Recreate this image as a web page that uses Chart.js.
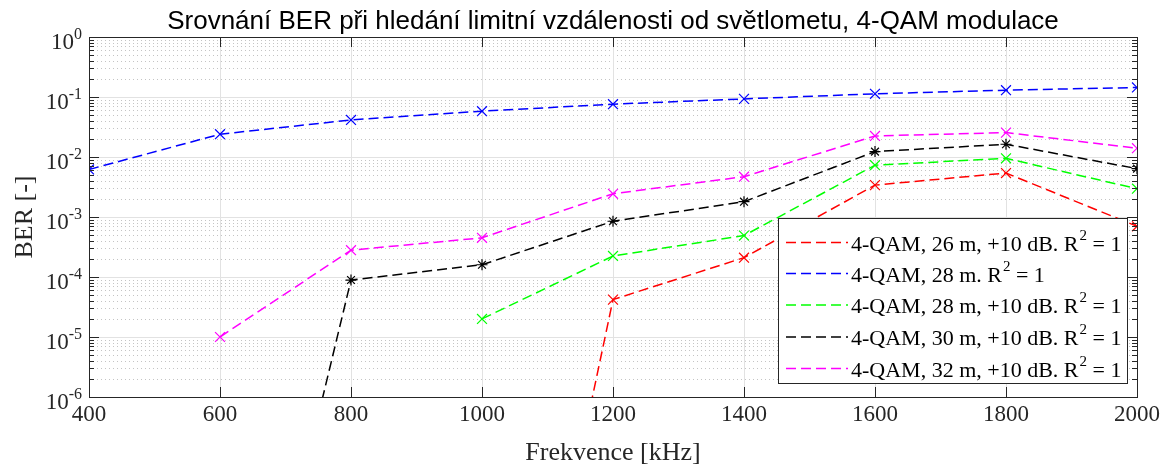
<!DOCTYPE html>
<html>
<head>
<meta charset="utf-8">
<script src="https://cdn.jsdelivr.net/npm/chart.js@4/dist/chart.umd.min.js"></script>
<style>
  html, body { margin: 0; padding: 0; background: #fff; }
  #wrap { width: 1166px; height: 468px; }
</style>
</head>
<body>
<div id="wrap"><canvas id="myGraph" width="1166" height="468"></canvas></div>
<script>
// data
const freq = [400, 600, 800, 1000, 1200, 1400, 1600, 1800, 2000];
const ber26p10 = [null, null, null, 2e-15, 4.2e-5, 2.1e-4, 3.4e-3, 5.4e-3, 7.0e-4];
const ber28 = [6.2e-3, 0.024, 0.0415, 0.058, 0.076, 0.093, 0.113, 0.130, 0.144];
const ber28p10 = [null, null, null, 2.0e-5, 2.24e-4, 4.9e-4, 7.3e-3, 9.5e-3, 2.96e-3];
const ber30p10 = [null, 8e-14, 8.9e-5, 1.6e-4, 8.5e-4, 1.8e-3, 0.0123, 0.0163, 6.4e-3];
const ber32p10 = [null, 1.0e-5, 2.8e-4, 4.5e-4, 2.44e-3, 4.7e-3, 0.0224, 0.0255, 0.0140];

const seriesLabels = [
  ['4-QAM, 26 m, +10 dB. R', '2', ' = 1'],
  ['4-QAM, 28 m. R', '2', ' = 1'],
  ['4-QAM, 28 m, +10 dB. R', '2', ' = 1'],
  ['4-QAM, 30 m, +10 dB. R', '2', ' = 1'],
  ['4-QAM, 32 m, +10 dB. R', '2', ' = 1']
];
const seriesColors = ['#ff0000', '#0000ff', '#00ff00', '#000000', '#ff00ff'];
const seriesMarkers = ['crossRot', 'crossRot', 'crossRot', 'star', 'crossRot'];
const markerSizes = [7, 7, 7, 5.5, 7];
const seriesData = [ber26p10, ber28, ber28p10, ber30p10, ber32p10];

const xTicks = [400, 600, 800, 1000, 1200, 1400, 1600, 1800, 2000];
const yExp = [0, -1, -2, -3, -4, -5, -6];

const titleText = 'Srovnání BER při hledání limitní vzdálenosti od světlometu, 4-QAM modulace';
const xTitle = 'Frekvence [kHz]';
const yTitle = 'BER [-]';

const DASH = [10, 5];
const SERIF = '"Liberation Serif", "Times New Roman", serif';
const SANS = '"Liberation Sans", Arial, sans-serif';

const graph = document.getElementById('myGraph');

// grid drawn under the lines, axes + texts on top
const gridPlugin = {
  id: 'matlabGrid',
  beforeDatasetsDraw(chart) {
    const ctx = chart.ctx;
    const a = chart.chartArea;
    const xs = chart.scales.x, ys = chart.scales.y;
    ctx.save();
    // minor horizontal, dotted
    ctx.strokeStyle = '#c4c4c4';
    ctx.lineWidth = 1;
    ctx.setLineDash([1, 3]);
    for (let e = -6; e < 0; e++) {
      for (let m = 2; m <= 9; m++) {
        const y = Math.round(ys.getPixelForValue(m * Math.pow(10, e))) + 0.5;
        ctx.beginPath(); ctx.moveTo(a.left, y); ctx.lineTo(a.right, y); ctx.stroke();
      }
    }
    ctx.setLineDash([]);
    ctx.strokeStyle = '#e2e2e2';
    yExp.forEach(e => {
      const y = Math.round(ys.getPixelForValue(Math.pow(10, e))) + 0.5;
      ctx.beginPath(); ctx.moveTo(a.left, y); ctx.lineTo(a.right, y); ctx.stroke();
    });
    xTicks.forEach(v => {
      const x = Math.round(xs.getPixelForValue(v)) + 0.5;
      ctx.beginPath(); ctx.moveTo(x, a.top); ctx.lineTo(x, a.bottom); ctx.stroke();
    });
    ctx.restore();
  },
  afterDraw(chart) {
    const ctx = chart.ctx;
    const a = chart.chartArea;
    const xs = chart.scales.x, ys = chart.scales.y;
    ctx.save();
    ctx.strokeStyle = '#262626';
    ctx.lineWidth = 1;
    // ticks, inward
    for (let e = -6; e < 0; e++) {
      for (let m = 2; m <= 9; m++) {
        const y = Math.round(ys.getPixelForValue(m * Math.pow(10, e))) + 0.5;
        ctx.beginPath();
        ctx.moveTo(a.left, y); ctx.lineTo(a.left + 5, y);
        ctx.moveTo(a.right, y); ctx.lineTo(a.right - 5, y);
        ctx.stroke();
      }
    }
    yExp.forEach(e => {
      const y = Math.round(ys.getPixelForValue(Math.pow(10, e))) + 0.5;
      ctx.beginPath();
      ctx.moveTo(a.left, y); ctx.lineTo(a.left + 10, y);
      ctx.moveTo(a.right, y); ctx.lineTo(a.right - 10, y);
      ctx.stroke();
    });
    xTicks.forEach(v => {
      const x = Math.round(xs.getPixelForValue(v)) + 0.5;
      ctx.beginPath();
      ctx.moveTo(x, a.bottom); ctx.lineTo(x, a.bottom - 10);
      ctx.moveTo(x, a.top); ctx.lineTo(x, a.top + 10);
      ctx.stroke();
    });
    // box
    ctx.strokeRect(Math.round(a.left) + 0.5, Math.round(a.top) + 0.5,
      Math.round(a.right - a.left), Math.round(a.bottom - a.top));

    ctx.fillStyle = '#262626';
    // x tick labels
    ctx.font = '23px ' + SERIF;
    ctx.textAlign = 'center';
    ctx.textBaseline = 'alphabetic';
    xTicks.forEach(v => {
      ctx.fillText(String(v), xs.getPixelForValue(v), a.bottom + 24);
    });
    // y tick labels 10^n
    yExp.forEach(e => {
      const y = ys.getPixelForValue(Math.pow(10, e));
      ctx.font = '23px ' + SERIF;
      const wBase = ctx.measureText('10').width;
      ctx.font = '16px ' + SERIF;
      const sup = String(e);
      const wSup = ctx.measureText(sup).width;
      const right = a.left - 7;
      ctx.textAlign = 'left';
      ctx.font = '23px ' + SERIF;
      ctx.fillText('10', right - wSup - wBase, y + 12);
      ctx.font = '16px ' + SERIF;
      ctx.fillText(sup, right - wSup, y + 2);
    });
    // axis titles
    ctx.font = '26px ' + SERIF;
    ctx.textAlign = 'center';
    ctx.fillText(xTitle, (a.left + a.right) / 2, a.bottom + 63);
    ctx.save();
    ctx.translate(32, (a.top + a.bottom) / 2);
    ctx.rotate(-Math.PI / 2);
    ctx.font = '26px ' + SERIF;
    ctx.fillText(yTitle, 0, 0);
    ctx.restore();
    // title
    ctx.fillStyle = '#000';
    ctx.font = '26px ' + SANS;
    ctx.fillText(titleText, (a.left + a.right) / 2, 29);

    // legend box
    const lx = 778.5, ly = 218.5, lw = 349, lh = 165;
    ctx.fillStyle = '#fff';
    ctx.fillRect(lx, ly, lw, lh);
    ctx.strokeStyle = '#262626';
    ctx.strokeRect(lx, ly, lw, lh);
    const rowY = [242.5, 273.5, 305, 337, 368.5];
    seriesLabels.forEach((parts, i) => {
      const ry = rowY[i];
      ctx.strokeStyle = seriesColors[i];
      ctx.lineWidth = 1.5;
      ctx.setLineDash(DASH);
      ctx.beginPath(); ctx.moveTo(786, ry); ctx.lineTo(848, ry); ctx.stroke();
      ctx.setLineDash([]);
      ctx.fillStyle = '#000';
      ctx.textAlign = 'left';
      let tx = 851;
      ctx.font = '22px ' + SERIF;
      ctx.fillText(parts[0], tx, ry + 8);
      tx += ctx.measureText(parts[0]).width;
      ctx.font = '15px ' + SERIF;
      ctx.fillText(parts[1], tx + 1, ry - 3);
      tx += ctx.measureText(parts[1]).width + 1;
      ctx.font = '22px ' + SERIF;
      ctx.fillText(parts[2], tx, ry + 8);
    });
    ctx.restore();
  }
};

const datasets = seriesData.map((vals, i) => ({
  label: seriesLabels[i].join(''),
  data: freq.map((f, k) => ({ x: f, y: vals[k] })),
  borderColor: seriesColors[i],
  backgroundColor: seriesColors[i],
  borderWidth: 1.5,
  borderDash: DASH,
  pointStyle: seriesMarkers[i],
  pointRadius: markerSizes[i],
  pointBorderWidth: 1.2,
  fill: false,
  tension: 0,
  spanGaps: false
}));

const chart = new Chart(graph, {
  type: 'line',
  data: { datasets: datasets },
  options: {
    responsive: false,
    animation: false,
    parsing: false,
    layout: { padding: { left: 89, right: 29, top: 37, bottom: 71 } },
    plugins: {
      legend: { display: false },
      title: { display: false },
      tooltip: { enabled: false }
    },
    scales: {
      x: {
        type: 'linear', min: 400, max: 2000,
        grid: { display: false, drawTicks: false },
        border: { display: false },
        ticks: { display: false }
      },
      y: {
        type: 'logarithmic', min: 1e-6, max: 1,
        grid: { display: false, drawTicks: false },
        border: { display: false },
        ticks: { display: false }
      }
    }
  },
  plugins: [gridPlugin]
});
</script>
</body>
</html>
